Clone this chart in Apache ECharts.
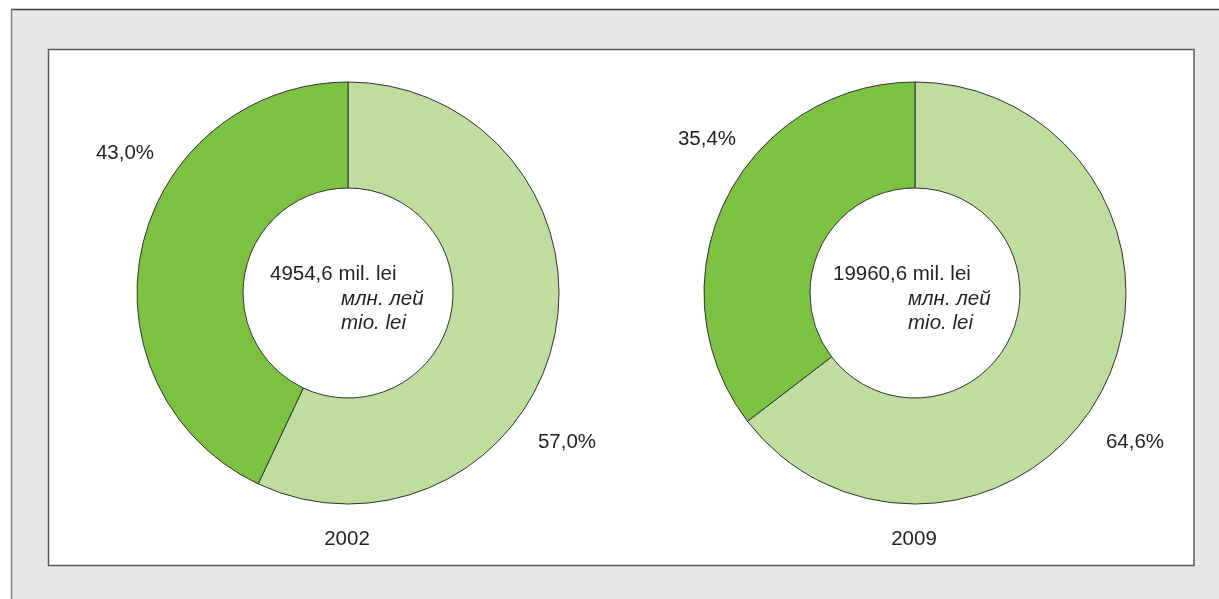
<!DOCTYPE html>
<html>
<head>
<meta charset="utf-8">
<script src="https://cdn.jsdelivr.net/npm/echarts@6/dist/echarts.min.js"></script>
<style>
	html, body { margin: 0; padding: 0; background: #fff; }
	#chart { width: 1219px; height: 599px; }
</style>
</head>
<body>
<div id="chart"></div>
<script>
// 数据
var years = ["2002", "2009"];
var totals = ["4954,6", "19960,6"];
var lightShare = [57.0, 64.6]; // 浅绿
var darkShare = [43.0, 35.4];  // 深绿
var unitLines = ["mil. lei", "млн. лей", "mio. lei"];

var colLight = "#bedd9e";
var colDark = "#7cc142";
var textCol = "#231f20";
var font = "20.5px 'Liberation Sans', Arial, sans-serif";
var fontIt = "italic 20.5px 'Liberation Sans', Arial, sans-serif";

// 布局
var centers = [[348, 293], [915, 293]];
var labelPos = [
	{ dark: [125, 153], light: [567, 442] },
	{ dark: [707, 139], light: [1135, 442] }
];

function fmt(v) {
	return v.toFixed(1).replace(".", ",") + "%";
}

var series = [];
var graphic = [
	// 外框
	{ type: "rect", z: -10, shape: { x: 11, y: 9, width: 1220, height: 600 }, style: { fill: "#e6e7e8" } },
	{ type: "line", z: -9, shape: { x1: 11, y1: 9.5, x2: 1219, y2: 9.5 }, style: { stroke: "#3a3a3a", lineWidth: 1.5 } },
	{ type: "line", z: -9, shape: { x1: 11.5, y1: 9, x2: 11.5, y2: 599 }, style: { stroke: "#808080", lineWidth: 1.5 } },
	{ type: "rect", z: -8, shape: { x: 48.5, y: 49.5, width: 1145.5, height: 516 }, style: { fill: "#fff", stroke: "#58595b", lineWidth: 1.5 } }
];

for (var i = 0; i < years.length; i++) {
	var c = centers[i];
	series.push({
		type: "pie",
		center: c,
		radius: [105, 211],
		startAngle: 90,
		clockwise: true,
		silent: true,
		label: { show: false },
		labelLine: { show: false },
		itemStyle: { borderColor: "#333", borderWidth: 1 },
		data: [
			{ value: lightShare[i], itemStyle: { color: colLight } },
			{ value: darkShare[i], itemStyle: { color: colDark } }
		]
	});
	// 百分比
	graphic.push({ type: "text", x: labelPos[i].dark[0], y: labelPos[i].dark[1], style: { text: fmt(darkShare[i]), font: font, fill: textCol, align: "center", verticalAlign: "middle" } });
	graphic.push({ type: "text", x: labelPos[i].light[0], y: labelPos[i].light[1], style: { text: fmt(lightShare[i]), font: font, fill: textCol, align: "center", verticalAlign: "middle" } });
	// 年份
	graphic.push({ type: "text", x: c[0] - 1, y: 539, style: { text: years[i], font: font, fill: textCol, align: "center", verticalAlign: "middle" } });
	// 中心文字
	var x1 = i == 0 ? 270 : 833;
	var x2 = i == 0 ? 341 : 908;
	graphic.push({ type: "text", x: x1, y: 274, style: { text: totals[i] + " " + unitLines[0], font: font, fill: textCol, align: "left", verticalAlign: "middle" } });
	graphic.push({ type: "text", x: x2, y: 299, style: { text: unitLines[1], font: fontIt, fill: textCol, align: "left", verticalAlign: "middle" } });
	graphic.push({ type: "text", x: x2, y: 323, style: { text: unitLines[2], font: fontIt, fill: textCol, align: "left", verticalAlign: "middle" } });
}

var myChart = echarts.init(document.getElementById("chart"));
myChart.setOption({
	backgroundColor: "#fff",
	animation: false,
	graphic: graphic,
	series: series
});
</script>
</body>
</html>
